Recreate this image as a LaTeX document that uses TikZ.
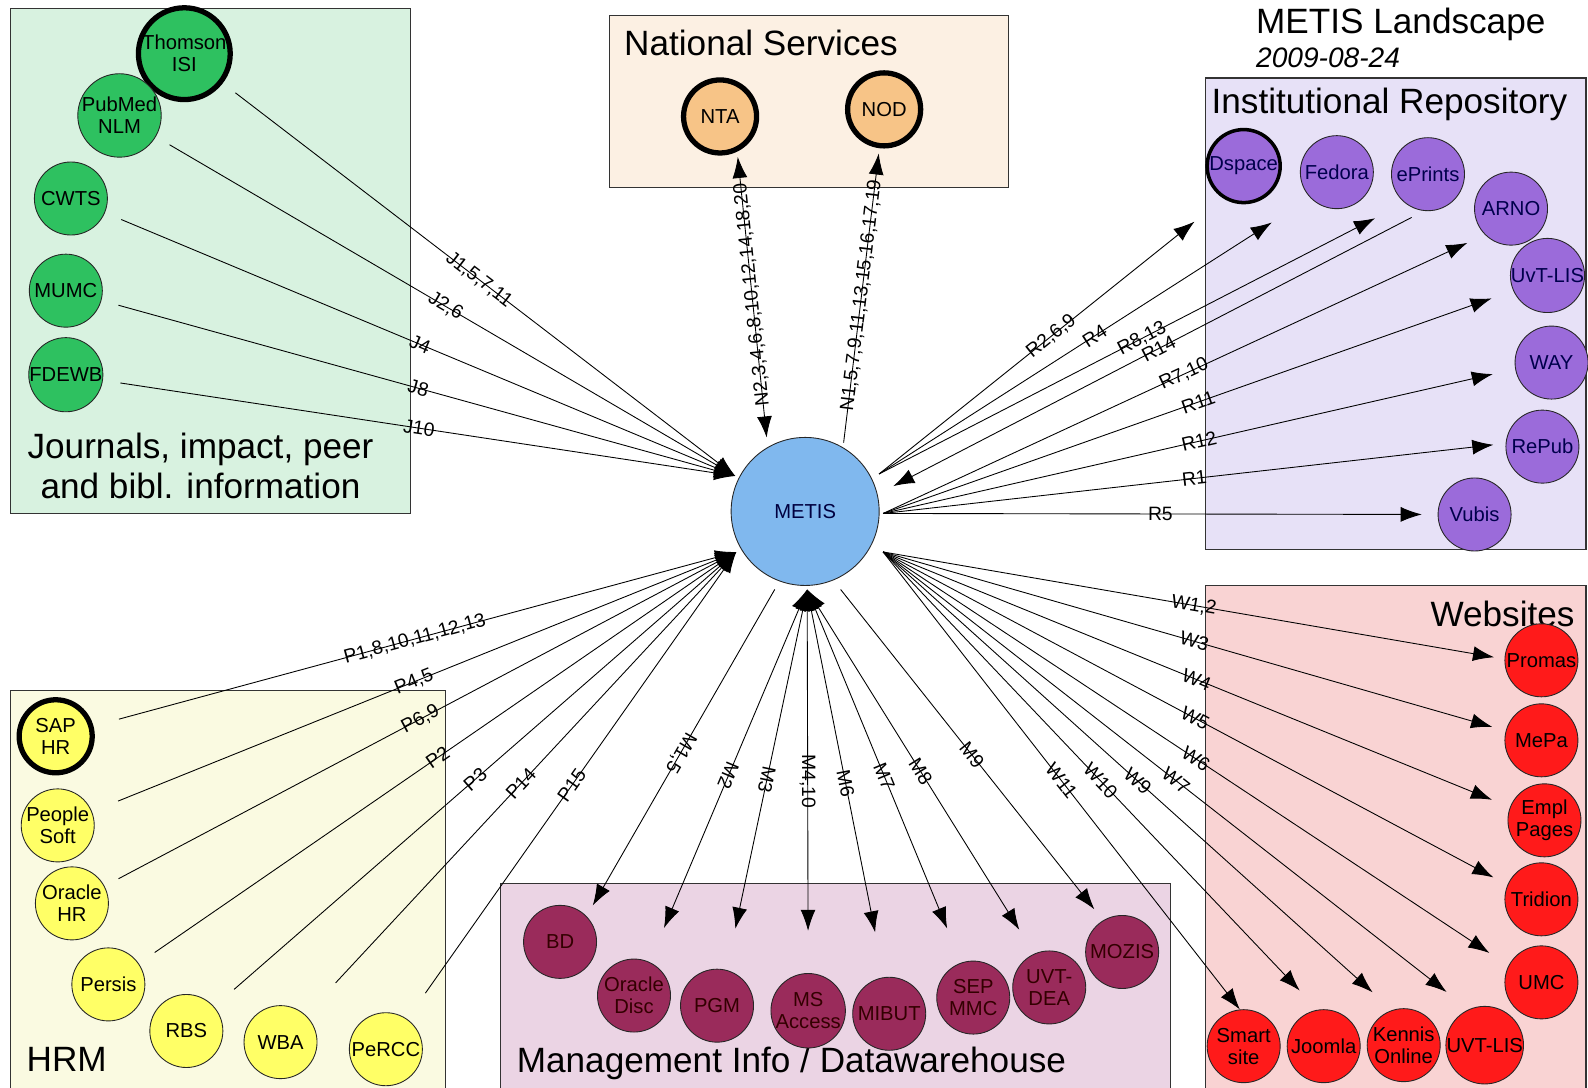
\documentclass[tikz,border=0pt]{standalone}
\usepackage{fontspec}
\setmainfont{Liberation Sans}
\usetikzlibrary{positioning}
\usetikzlibrary{arrows.meta}

\definecolor{jbox}{HTML}{D8F2E0}
\definecolor{jfill}{HTML}{2EC160}
\definecolor{nbox}{HTML}{FCF0E3}
\definecolor{nfill}{HTML}{F7C487}
\definecolor{rbox}{HTML}{E7E1F7}
\definecolor{rfill}{HTML}{9B6BDA}
\definecolor{cfill}{HTML}{80B8EE}
\definecolor{wbox}{HTML}{F9D3D3}
\definecolor{wfill}{HTML}{FF1A1A}
\definecolor{dbox}{HTML}{EBD4E4}
\definecolor{dfill}{HTML}{9A2B5B}
\definecolor{hbox}{HTML}{FAFAE1}
\definecolor{hfill}{HTML}{FFFF66}

\begin{document}
\begin{tikzpicture}[x=0.020255cm,y=-0.020255cm,>={Latex[length=12pt,width=8.5pt]},
    site/.style={circle,draw=black!85,line width=0.5pt,minimum size=1.46cm,inner sep=0pt,
      align=center,font=\fontsize{11.5}{12.5}\selectfont},
    core/.style={site,line width=3pt,draw=black},
    group/.style={draw=black!80,line width=0.6pt},
    title/.style={inner sep=0pt,font=\fontsize{20}{23}\selectfont},
    lab/.style={sloped,inner sep=1pt,font=\fontsize{11}{12}\selectfont},
    every edge/.append style={line width=0.5pt}]
    \fill[white] (0,0) rectangle (1568,1074);
    \useasboundingbox (0,0) rectangle (1568,1074);

    % group boxes
    \draw[group,fill=jbox] (10,8) rectangle (405,507);
    \draw[group,fill=nbox] (602,15) rectangle (996,185);
    \draw[group,fill=rbox] (1190,77) rectangle (1566,543);
    \draw[group,fill=wbox] (1190,578) rectangle (1566,1080);
    \draw[group,fill=dbox] (494,872) rectangle (1156,1080);
    \draw[group,fill=hbox] (10,682) rectangle (440,1080);

    % titles
    \node (jtitle) [title,align=center] at (198,460) {Journals, impact, peer\\and bibl. information};
    \node (nstitle) [title,anchor=west] at (616,42) {National Services};
    \node (main) [title,anchor=west] at (1240,24) {METIS Landscape};
    \node (date) [inner sep=0pt,anchor=west,font=\fontsize{16}{18}\selectfont\itshape] at (1240,57) {2009-08-24};
    \node (irtitle) [title,anchor=west] at (1196,103) {Institutional Repository};
    \node (webtitle) [title,anchor=east] at (1555,606) {Websites};
    \node (hrmtitle) [title,anchor=west] at (26,1046) {HRM};
    \node (dwtitle) [title,anchor=west] at (510,1050) {Management Info / Datawarehouse};

    % centre
    \node (metis) [site,fill=cfill,minimum size=2.96cm,text=black!75!blue] at (795,505) {METIS};

    % journals
    \node (thomson) [core,fill=jfill] at (182,53) {Thomson\\ISI};
    \node (pubmed) [site,fill=jfill] at (118,114) {PubMed\\NLM};
    \node (cwts) [site,fill=jfill] at (70,196) {CWTS};
    \node (mumc) [site,fill=jfill] at (65,287) {MUMC};
    \node (fdewb) [site,fill=jfill] at (65,370) {FDEWB};

    % national services
    \node (nta) [core,fill=nfill] at (711,115) {NTA};
    \node (nod) [core,fill=nfill] at (873,108) {NOD};

    % institutional repository
    \node (dspace) [core,line width=2pt,fill=rfill,text=black!70!blue] at (1228,164) {Dspace};
    \node (fedora) [site,fill=rfill,text=black!70!blue] at (1320,170) {Fedora};
    \node (eprints) [site,fill=rfill,text=black!70!blue] at (1410,172) {ePrints};
    \node (arno) [site,fill=rfill,text=black!70!blue] at (1492,206) {ARNO};
    \node (uvtlis) [site,fill=rfill,text=black!70!blue] at (1528,272) {UvT-LIS};
    \node (way) [site,fill=rfill,text=black!70!blue] at (1532,358) {WAY};
    \node (repub) [site,fill=rfill,text=black!70!blue] at (1523,441) {RePub};
    \node (vubis) [site,fill=rfill,text=black!70!blue] at (1456,508) {Vubis};

    % websites
    \node (promas) [site,fill=wfill] at (1522,652) {Promas};
    \node (mepa) [site,fill=wfill] at (1522,731) {MePa};
    \node (empl) [site,fill=wfill] at (1525,810) {Empl\\Pages};
    \node (tridion) [site,fill=wfill] at (1522,888) {Tridion};
    \node (umc) [site,fill=wfill] at (1522,970) {UMC};
    \node (uvtweb) [site,fill=wfill] at (1466,1032) {UVT-LIS};
    \node (kennis) [site,fill=wfill] at (1386,1032) {Kennis\\Online};
    \node (joomla) [site,fill=wfill] at (1307,1033) {Joomla};
    \node (smart) [site,fill=wfill] at (1228,1033) {Smart\\site};

    % management info
    \node (bd) [site,fill=dfill,text=black!80!red] at (553,930) {BD};
    \node (odisc) [site,fill=dfill,text=black!80!red] at (626,983) {Oracle\\Disc};
    \node (pgm) [site,fill=dfill,text=black!80!red] at (708,993) {PGM};
    \node (access) [site,fill=dfill,text=black!80!red] at (798,998) {MS\\Access};
    \node (mibut) [site,fill=dfill,text=black!80!red] at (878,1001) {MIBUT};
    \node (sep) [site,fill=dfill,text=black!80!red] at (961,985) {SEP\\MMC};
    \node (uvtdea) [site,fill=dfill,text=black!80!red] at (1036,975) {UVT-\\DEA};
    \node (mozis) [site,fill=dfill,text=black!80!red] at (1108,940) {MOZIS};

    % hrm
    \node (sap) [core,fill=hfill] at (55,727) {SAP\\HR};
    \node (psoft) [site,fill=hfill] at (57,815) {People\\Soft};
    \node (ohr) [site,fill=hfill] at (71,892) {Oracle\\HR};
    \node (persis) [site,fill=hfill] at (107,972) {Persis};
    \node (rbs) [site,fill=hfill] at (184,1018) {RBS};
    \node (wba) [site,fill=hfill] at (277,1029) {WBA};
    \node (percc) [site,fill=hfill] at (381,1036) {PeRCC};

    % meeting points round METIS
    \coordinate (jin) at (726,470);
    \coordinate (pin) at (727,545);
    \coordinate (rA) at (868,468);
    \coordinate (rB) at (872,507);
    \coordinate (rC) at (882,480);
    \coordinate (wout) at (872,545);
    \coordinate (mL) at (765,582);
    \coordinate (mC) at (797,582);
    \coordinate (mR) at (830,582);
    \coordinate (nA) at (757,432);
    \coordinate (nB) at (833,437);

    \path[->]
      (thomson) edge[shorten <=9pt] node[lab] {J1,5,7,11} (jin)
      (pubmed) edge[shorten <=9pt] node[lab] {J2,6} (jin)
      (cwts) edge[shorten <=10pt] node[lab] {J4} (jin)
      (mumc) edge[shorten <=10pt] node[lab] {J8} (jin)
      (fdewb) edge[shorten <=10pt] node[lab] {J10} (jin)
    ;
    \path[->]
      (sap) edge[shorten <=15pt] node[lab] {P1,8,10,11,12,13} (pin)
      (psoft) edge[shorten <=16pt] node[lab] {P4,5} (pin)
      (ohr) edge[shorten <=9pt] node[lab] {P6,9} (pin)
      (persis) edge[shorten <=11pt] node[lab] {P2} (pin)
      (rbs) edge[shorten <=15pt] node[lab] {P3} (pin)
      (wba) edge[shorten <=25pt] node[lab] {P14} (pin)
      (percc) edge[shorten <=18pt] node[lab] {P15} (pin)
    ;
    \path[<->] (nA) edge[shorten >=3pt] node[lab,allow upside down] {N2,3,4,6,8,10,12,14,18,20} (nta.296);
    \path[->] (nB) edge[shorten >=3pt] node[lab,allow upside down] {N1,5,7,9,11,13,15,16,17,19} (nod.263);
    \path[->]
      (rA) edge[shorten >=21pt] node[lab] {R2,6,9} (dspace.238)
      (rA) edge[shorten >=26pt] node[lab] {R4} (fedora.224)
      (rA) edge[shorten >=19pt] node[lab] {R8,13} (eprints.231)
      (eprints.264) edge[shorten <=8pt] node[lab] {R14} (rC)
      (rB) edge[shorten >=11pt] node[lab] {R7,10} (arno.225)
      (rB) edge[shorten >=13pt] node[lab] {R11} (uvtlis.204)
      (rB) edge[shorten >=13pt] node[lab] {R12} (way.190)
      (rB) edge[shorten >=7pt] node[lab] {R1} (repub.175)
      (rB) edge[shorten >=9pt] node[lab] {R5} (vubis.180)
    ;
    \path[->]
      (wout) edge[shorten >=6pt] node[lab] {W1,2} (promas.178)
      (wout) edge[shorten >=8pt] node[lab] {W3} (mepa.165)
      (wout) edge[shorten >=11pt] node[lab] {W4} (empl.159)
      (wout) edge[shorten >=9pt] node[lab] {W5} (tridion.157)
      (wout) edge[shorten >=13pt] node[lab] {W6} (umc.153)
      (wout) edge[shorten >=16pt] node[lab] {W7} (uvtweb.114)
      (wout) edge[shorten >=15pt] node[lab] {W9} (kennis.108)
      (wout) edge[shorten >=15pt] node[lab] {W10} (joomla.99)
      (wout) edge node[lab] {W11} (smart.96)
    ;
    \path[->]
      (mL) edge[shorten >=7pt] node[lab,allow upside down] {M1,5} (bd.44)
      (mR) edge[shorten >=8pt] node[lab] {M9} (mozis.121)
    ;
    \path[<->]
      (mC) edge[shorten >=21pt] node[lab,allow upside down] {M2} (odisc.65)
      (mC) edge[shorten >=24pt] node[lab,allow upside down] {M3} (pgm.75)
      (mC) edge[shorten >=24pt] node[lab] {M4,10} (access.90)
      (mC) edge[shorten >=26pt] node[lab] {M6} (mibut.98)
      (mC) edge[shorten >=21pt] node[lab] {M7} (sep.109)
      (mC) edge[shorten >=16pt] node[lab] {M8} (uvtdea.114)
    ;
\end{tikzpicture}
\end{document}
